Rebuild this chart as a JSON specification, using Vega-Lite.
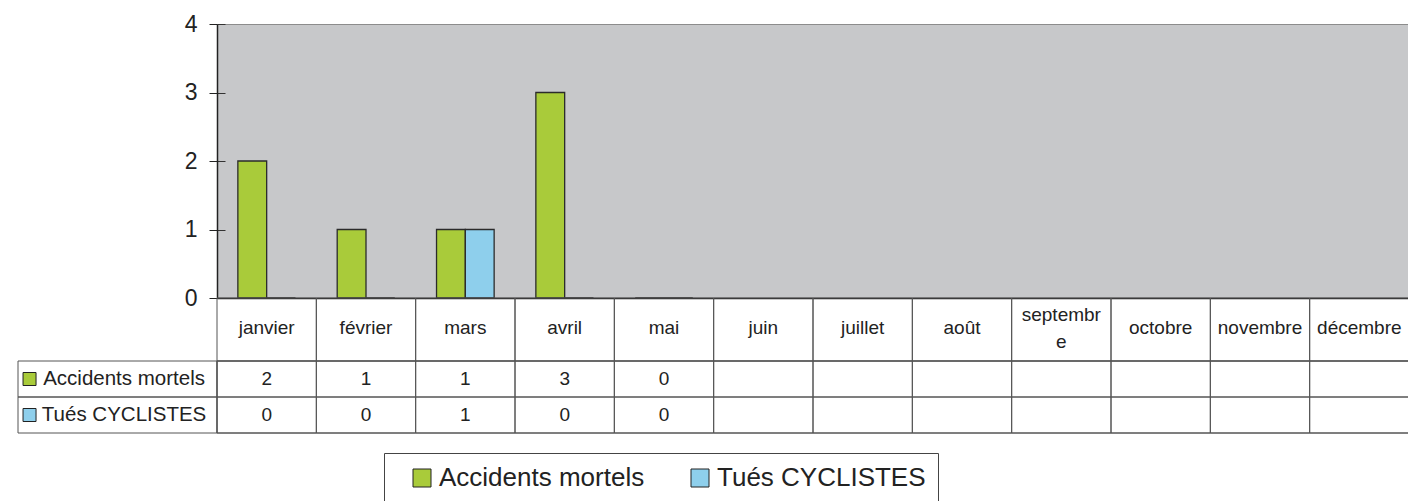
{
  "$schema": "https://vega.github.io/schema/vega-lite/v6.json",
  "background": "white",
  "autosize": {"type": "pad"},
  "padding": {"left": 17, "top": 12, "right": 0, "bottom": 0},
  "config": {
    "font": "Liberation Sans",
    "view": {"stroke": null},
    "text": {"font": "Liberation Sans", "color": "#222222"},
    "axis": {"labelFont": "Liberation Sans", "labelColor": "#222222"},
    "legend": {"labelFont": "Liberation Sans"}
  },
  "datasets": {
    "valeurs": [
      {"mois": "janvier", "serie": "Accidents mortels", "valeur": 2},
      {"mois": "janvier", "serie": "Tués CYCLISTES", "valeur": 0},
      {"mois": "février", "serie": "Accidents mortels", "valeur": 1},
      {"mois": "février", "serie": "Tués CYCLISTES", "valeur": 0},
      {"mois": "mars", "serie": "Accidents mortels", "valeur": 1},
      {"mois": "mars", "serie": "Tués CYCLISTES", "valeur": 1},
      {"mois": "avril", "serie": "Accidents mortels", "valeur": 3},
      {"mois": "avril", "serie": "Tués CYCLISTES", "valeur": 0},
      {"mois": "mai", "serie": "Accidents mortels", "valeur": 0},
      {"mois": "mai", "serie": "Tués CYCLISTES", "valeur": 0}
    ],
    "mois": [
      {"mois": "janvier"}, {"mois": "février"}, {"mois": "mars"}, {"mois": "avril"},
      {"mois": "mai"}, {"mois": "juin"}, {"mois": "juillet"}, {"mois": "août"},
      {"mois": "septembre"}, {"mois": "octobre"}, {"mois": "novembre"}, {"mois": "décembre"}
    ],
    "series": [
      {"serie": "Accidents mortels"},
      {"serie": "Tués CYCLISTES"}
    ]
  },
  "columns": 2,
  "spacing": 0,
  "bounds": "flush",
  "concat": [
    {
      "width": 199, "height": 274,
      "data": {"values": []},
      "mark": "point",
      "encoding": {}
    },
    {
      "width": 1192, "height": 274,
      "data": {"name": "valeurs"},
      "view": {"fill": "#C7C8CA", "stroke": "#8C8C8C", "strokeWidth": 1},
      "mark": {"type": "bar", "stroke": "#2B2B2B", "strokeWidth": 1.3},
      "encoding": {
        "x": {
          "field": "mois", "type": "nominal", "sort": null,
          "scale": {"domain": ["janvier", "février", "mars", "avril", "mai", "juin", "juillet", "août", "septembre", "octobre", "novembre", "décembre"], "paddingInner": 0.42, "paddingOuter": 0.21},
          "axis": {"title": null, "labels": false, "ticks": false, "domainColor": "#222222", "domainWidth": 1.5}
        },
        "xOffset": {
          "field": "serie", "type": "nominal",
          "scale": {"domain": ["Accidents mortels", "Tués CYCLISTES"]}
        },
        "y": {
          "field": "valeur", "type": "quantitative",
          "scale": {"domain": [0, 4], "nice": false},
          "axis": {
            "title": null, "values": [0, 1, 2, 3, 4], "format": "d",
            "grid": true, "gridColor": "#333333", "gridDash": [8, 3000], "gridWidth": 1,
            "tickSize": 8, "tickColor": "#222222", "domainColor": "#222222", "domainWidth": 1.5,
            "labelFontSize": 23, "labelPadding": 12
          }
        },
        "color": {
          "field": "serie", "type": "nominal",
          "scale": {"domain": ["Accidents mortels", "Tués CYCLISTES"], "range": ["#A9CB3A", "#8ECFEC"]},
          "legend": {
            "title": null, "orient": "none", "direction": "horizontal",
            "legendX": 366, "legendY": 429,
            "strokeColor": "#444444", "padding": 12,
            "symbolType": "square", "symbolSize": 324, "symbolStrokeColor": "#222222", "symbolStrokeWidth": 1,
            "symbolOffset": 13, "labelOffset": 4, "columnPadding": 29,
            "labelFontSize": 26, "labelLimit": 500, "labelColor": "#222222"
          }
        }
      }
    },
    {
      "width": 199, "height": 63,
      "data": {"values": []},
      "mark": "point",
      "encoding": {}
    },
    {
      "width": 1192, "height": 63,
      "data": {"name": "mois"},
      "mark": {"type": "rect", "filled": false, "stroke": "#555555", "strokeWidth": 1},
      "encoding": {
        "x": {
          "field": "mois", "type": "nominal", "sort": null,
          "scale": {"domain": ["janvier", "février", "mars", "avril", "mai", "juin", "juillet", "août", "septembre", "octobre", "novembre", "décembre"], "paddingInner": 0, "paddingOuter": 0},
          "axis": {
            "title": null, "orient": "bottom", "domain": false, "ticks": false, "tickSize": 0,
            "labelPadding": {"condition": {"test": "datum.value == 'septembre'", "value": -46.5}, "value": -33.5},
            "labelBaseline": "middle", "labelFontSize": 19, "labelLineHeight": 27,
            "labelAngle": 0, "zindex": 1,
            "labelExpr": "datum.value == 'septembre' ? ['septembr', 'e'] : datum.label"
          }
        }
      }
    },
    {
      "width": 199, "height": 72,
      "data": {"name": "series"},
      "layer": [
        {
          "mark": {"type": "rect", "filled": false, "stroke": "#555555", "strokeWidth": 1},
          "encoding": {
            "y": {"field": "serie", "type": "nominal", "sort": null, "scale": {"domain": ["Accidents mortels", "Tués CYCLISTES"], "paddingInner": 0, "paddingOuter": 0}, "axis": null}
          }
        },
        {
          "mark": {"type": "point", "shape": "square", "filled": true, "size": 169, "opacity": 1, "stroke": "#222222", "strokeWidth": 1},
          "encoding": {
            "x": {"datum": "etiquette", "type": "nominal", "bandPosition": 0.058, "scale": {"type": "band", "domain": ["etiquette"], "paddingInner": 0, "paddingOuter": 0}, "axis": null},
            "y": {"field": "serie", "type": "nominal", "sort": null, "axis": null},
            "fill": {"field": "serie", "type": "nominal", "scale": {"domain": ["Accidents mortels", "Tués CYCLISTES"], "range": ["#A9CB3A", "#8ECFEC"]}, "legend": null}
          }
        },
        {
          "mark": {"type": "text", "align": "center", "baseline": "middle", "fontSize": 20.5, "color": "#222222"},
          "encoding": {
            "x": {"datum": "etiquette", "type": "nominal", "bandPosition": 0.533, "axis": null},
            "y": {"field": "serie", "type": "nominal", "sort": null, "axis": null},
            "text": {"field": "serie", "type": "nominal"}
          }
        }
      ]
    },
    {
      "width": 1192, "height": 72,
      "layer": [
        {
          "data": {"name": "mois"},
          "mark": {"type": "rect", "filled": false, "stroke": "#555555", "strokeWidth": 1},
          "encoding": {
            "x": {
              "field": "mois", "type": "nominal", "sort": null,
              "scale": {"domain": ["janvier", "février", "mars", "avril", "mai", "juin", "juillet", "août", "septembre", "octobre", "novembre", "décembre"], "paddingInner": 0, "paddingOuter": 0},
              "axis": null
            }
          }
        },
        {
          "data": {"name": "series"},
          "mark": {"type": "rect", "filled": false, "stroke": "#555555", "strokeWidth": 1},
          "encoding": {
            "y": {"field": "serie", "type": "nominal", "sort": null, "scale": {"domain": ["Accidents mortels", "Tués CYCLISTES"], "paddingInner": 0, "paddingOuter": 0}, "axis": null}
          }
        },
        {
          "data": {"name": "valeurs"},
          "mark": {"type": "text", "align": "center", "baseline": "middle", "fontSize": 19, "color": "#222222"},
          "encoding": {
            "x": {"field": "mois", "type": "nominal", "sort": null, "axis": null},
            "y": {"field": "serie", "type": "nominal", "sort": null, "axis": null},
            "text": {"field": "valeur", "type": "quantitative"}
          }
        }
      ]
    }
  ]
}
